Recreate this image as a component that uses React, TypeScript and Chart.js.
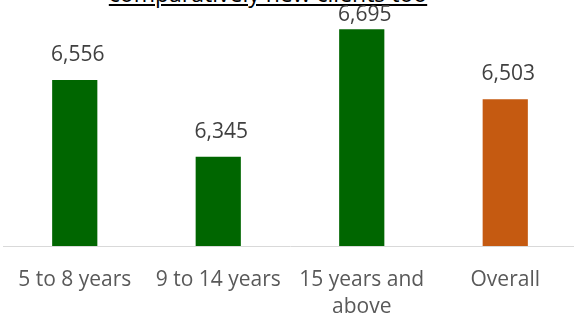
import React, { useEffect, useRef } from "react";
import { Chart, registerables } from "chart.js";

Chart.register(...registerables);

const categories: (string | string[])[] = ["5 to 8 years", "9 to 14 years", ["15 years and", "above"], "Overall"];
const values = [6556, 6345, 6695, 6503];
const barColors = ["#006600", "#006600", "#006600", "#C55A11"];
const titleText = "comparatively new clients too";

const FONT = "'Open Sans', sans-serif";

const labelPlugin = {
  id: "valueLabels",
  afterDatasetsDraw(chart: any) {
    const ctx = chart.ctx;
    const meta = chart.getDatasetMeta(0);
    const minY = chart.chartArea.top + 30;
    ctx.save();
    ctx.font = `21px ${FONT}`;
    ctx.fillStyle = "#404040";
    ctx.textAlign = "center";
    ctx.textBaseline = "alphabetic";
    meta.data.forEach((bar: any, i: number) => {
      ctx.fillText(values[i].toLocaleString("en-US"), bar.x + 3, Math.max(bar.y - 19, minY));
    });
    ctx.restore();
  },
};

export default function App() {
  const ref = useRef<HTMLCanvasElement>(null);
  useEffect(() => {
    document.body.style.overflow = "hidden";
    const chart = new Chart(ref.current!, {
      type: "bar",
      data: {
        labels: categories,
        datasets: [
          {
            data: values,
            backgroundColor: barColors,
            borderWidth: 0,
            barPercentage: 1,
            categoryPercentage: 0.315,
          },
        ],
      },
      options: {
        animation: false,
        responsive: true,
        maintainAspectRatio: false,
        layout: { padding: 0 },
        plugins: { legend: { display: false }, tooltip: { enabled: false } },
        scales: {
          x: {
            grid: { display: false },
            border: { display: true, color: "#d9d9d9", width: 1 },
            ticks: {
              color: "#595959",
              font: { family: FONT, size: 21, lineHeight: 1.3 },
              padding: 12,
              maxRotation: 0,
              autoSkip: false,
            },
            afterFit: (scale: any) => {
              scale.height = 72;
            },
          },
          y: {
            display: false,
            min: 6100,
            max: 6800,
          },
        },
      },
      plugins: [labelPlugin],
    });
    return () => chart.destroy();
  }, []);

  return (
    <div style={{ position: "fixed", left: 0, top: 0, width: 574, height: 318, overflow: "hidden", background: "#fff" }}>
      <div
        style={{
          position: "absolute",
          left: 0,
          width: 536,
          top: -18,
          textAlign: "center",
          fontFamily: FONT,
          fontSize: 23,
          lineHeight: "23px",
          color: "#000",
          textDecoration: "underline",
          whiteSpace: "nowrap",
        }}
      >
        {titleText}
      </div>
      <div style={{ position: "absolute", left: 3, top: -9, width: 574, height: 327 }}>
        <canvas ref={ref} />
      </div>
    </div>
  );
}
